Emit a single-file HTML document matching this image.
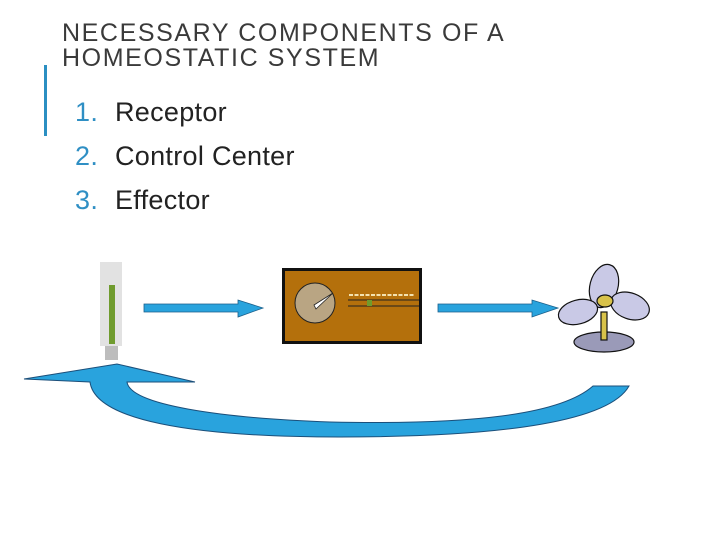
<!DOCTYPE html>
<html><head><meta charset="utf-8"><style>
body{margin:0;width:720px;height:540px;background:#fff;overflow:hidden;position:relative;font-family:"Liberation Sans",sans-serif}
.t{position:absolute;left:62px;top:21px;font-size:25px;line-height:25px;color:#3a3a3a;letter-spacing:1.6px}
.bar{position:absolute;left:44px;top:65px;width:3px;height:71px;background:#2b8fc2}
.li{position:absolute;left:75px;font-size:27px;color:#222;letter-spacing:0.3px}
.li span{color:#2f8fc4;display:inline-block;width:40px}
</style></head><body>
<div class="t">NECESSARY COMPONENTS OF A<br>HOMEOSTATIC SYSTEM</div>
<div class="bar"></div>
<div class="li" style="top:97px"><span>1.</span>Receptor</div>
<div class="li" style="top:141px"><span>2.</span>Control Center</div>
<div class="li" style="top:185px"><span>3.</span>Effector</div>
<svg width="720" height="540" style="position:absolute;left:0;top:0">
<rect x="100" y="262" width="22" height="84" fill="#e2e2e2"/>
<rect x="109" y="285" width="6" height="59" fill="#6f9b2e"/>
<rect x="105" y="346" width="13" height="14" fill="#bdbdbd"/>
<path d="M144,304 H238 V300 L263,308 L238,317 V312 H144 Z" fill="#29a3dd" stroke="#1b5f8a" stroke-width="0.8"/>
<path d="M438,304 H532 V300 L558,308 L532,317 V312 H438 Z" fill="#29a3dd" stroke="#1b5f8a" stroke-width="0.8"/>
<rect x="283.5" y="269.5" width="137" height="73" fill="#b4700c" stroke="#111" stroke-width="3"/>
<circle cx="315" cy="303" r="20" fill="#b9a583" stroke="#222" stroke-width="1"/>
<path d="M314,305 L333,293 L316,309 Z" fill="#fff" stroke="#222" stroke-width="0.8"/>
<line x1="348" y1="300" x2="419" y2="300" stroke="#222"/>
<line x1="348" y1="306" x2="419" y2="306" stroke="#222"/>
<rect x="367" y="300" width="5" height="6" fill="#6f9b2e"/>
<line x1="349" y1="295" x2="414" y2="295" stroke="#f3e2b0" stroke-width="2" stroke-dasharray="4,1.5"/>
<path d="M24,379 L117,364 L195,382 L127,382 C130,405 220,418 330,422 C470,425 560,415 593,386 L629,386 C610,420 510,437 340,437 C190,437 95,420 90,382 Z" fill="#29a3dd" stroke="#1b4f7a" stroke-width="1"/>
<g stroke="#111" stroke-width="1.2" fill="#c9c9e6">
<ellipse cx="604" cy="342" rx="30" ry="10" fill="#9a9ab8"/>
<rect x="601" y="312" width="6" height="28" fill="#d8c24a"/>
<ellipse cx="604" cy="286" rx="14" ry="22" transform="rotate(15 604 286)"/>
<ellipse cx="578" cy="312" rx="20" ry="12" transform="rotate(-15 578 312)"/>
<ellipse cx="630" cy="306" rx="20" ry="13" transform="rotate(20 630 306)"/>
<ellipse cx="605" cy="301" rx="8" ry="6" fill="#d8c24a"/>
</g>
</svg>
</body></html>
